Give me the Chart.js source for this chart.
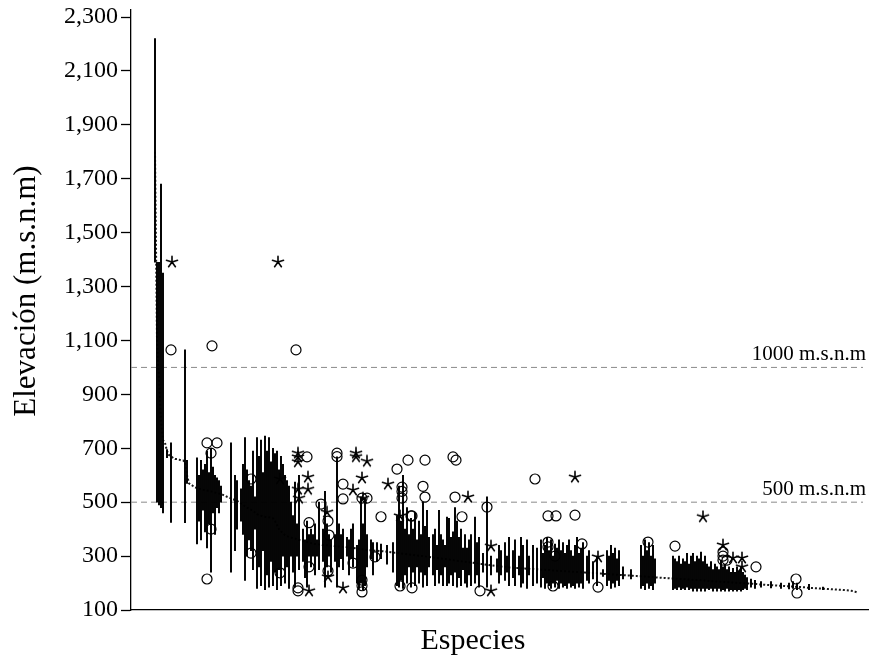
<!DOCTYPE html>
<html>
<head>
<meta charset="utf-8">
<title>Elevación por especie</title>
<script src="https://cdn.jsdelivr.net/npm/chart.js"></script>
<style>
  body { margin: 0; background: #fff; }
  canvas { display: block; }
</style>
</head>
<body>
<canvas id="elevChart" width="869" height="658"></canvas>
<script>
// species are ranked by median elevation (index = rank)
const medians = [
  1800, 1100, 950, 800, 730, 720, 690, 675, 670, 665,
  660, 660, 658, 655, 655, 650, 600, 570, 565, 560,
  555, 552, 550, 548, 546, 545, 543, 542, 540, 538,
  536, 534, 532, 530, 527, 524, 520, 517, 514, 511,
  508, 505, 500, 495, 490, 485, 480, 476, 472, 468,
  462, 456, 452, 450, 448, 446, 445, 444, 443, 440,
  430, 415, 400, 392, 385, 378, 374, 371, 369, 367,
  365, 362, 360, 358, 356, 354, 352, 350, 348, 347,
  345, 344, 343, 342, 341, 340, 340, 339, 338, 338,
  337, 336, 336, 335, 334, 334, 333, 332, 331, 330,
  329, 328, 327, 326, 325, 324, 323, 322, 322, 321,
  320, 320, 319, 318, 318, 317, 316, 315, 314, 313,
  312, 312, 311, 310, 309, 308, 307, 306, 305, 304,
  303, 302, 301, 300, 300, 299, 298, 297, 296, 295,
  294, 293, 292, 291, 290, 289, 288, 287, 286, 285,
  284, 283, 282, 281, 280, 279, 278, 277, 276, 275,
  274, 273, 272, 271, 270, 269, 268, 267, 266, 265,
  264, 263, 262, 261, 260, 260, 259, 258, 258, 257,
  256, 256, 255, 255, 254, 254, 253, 253, 252, 252,
  251, 251, 250, 250, 249, 249, 248, 248, 247, 247,
  246, 246, 245, 245, 244, 244, 243, 243, 242, 242,
  241, 241, 240, 240, 239, 239, 238, 238, 237, 237,
  236, 236, 235, 235, 234, 234, 233, 233, 232, 232,
  231, 231, 230, 230, 229, 229, 228, 228, 227, 227,
  226, 226, 225, 225, 224, 224, 223, 223, 222, 222,
  221, 221, 220, 220, 219, 219, 218, 218, 217, 217,
  216, 216, 215, 215, 214, 214, 213, 213, 212, 212,
  211, 211, 210, 210, 209, 209, 208, 208, 207, 207,
  206, 206, 205, 205, 204, 204, 203, 203, 202, 202,
  201, 201, 200, 200, 199, 199, 198, 198, 197, 197,
  196, 196, 195, 195, 194, 194, 193, 193, 192, 192,
  191, 191, 190, 190, 189, 189, 188, 188, 187, 187,
  186, 186, 185, 185, 184, 184, 183, 183, 182, 182,
  181, 181, 180, 180, 179, 179, 178, 178, 177, 177,
  176, 176, 175, 175, 174, 174, 173, 172, 171, 170, 168, 165
];

const lows = [
  1390, 500, 490, 480, 460, null, 665, null, 425, null,
  null, null, null, null, null, 424, 570, null, null, null,
  null, 345, 430, 360, 470, 390, 330, 420, 240, 460,
  380, 480, 460, 500, null, null, null, null, 240, null,
  320, 400, null, 430, 380, 210, 300, 360, 320, 250,
  400, 180, 260, 190, 320, 175, 230, 185, 280, 190,
  240, 175, 250, 190, 300, 200, 260, 180, 300, 240,
  185, 300, 250, null, 280, 220, 185, 300, 260, 300,
  230, 300, 250, null, 280, 185, 260, 300, 240, null,
  280, 185, 260, 290, 250, null, 300, 230, 290, 260,
  null, 200, 180, 200, 175, 190, 260, null, 290, 230,
  null, 280, null, 290, null, null, 270, null, null, 240,
  null, 190, 185, 210, 180, 230, 200, 260, 185, 240,
  190, 260, 200, 240, 185, 230, 190, 260, null, 230,
  190, 250, 200, 230, 190, 260, 190, 200, 230, 190,
  240, 185, 220, 190, 250, 200, 185, 230, 190, null,
  200, 230, 185, null, 240, null, 185, null, 230, null,
  null, 240, 200, 230, null, 210, 240, 190, null, 220,
  190, null, 230, 185, 200, null, 180, 230, null, 190,
  null, 200, null, 185, 220, 180, 200, 190, 180, 200,
  185, 210, 180, 200, 185, 190, 180, 200, 185, 190,
  180, 200, 185, 200, 180, null, 210, 200, null, 215,
  null, 190, null, null, 225, null, 190, 210, 180, 200,
  185, 210, 190, null, 215, null, null, null, 215, null,
  null, null, null, 180, 190, 175, 200, 180, 190, 175,
  200, null, null, null, null, null, null, null, null, 175,
  180, 175, 185, 175, 180, 175, 185, 175, 180, 170,
  180, 170, 180, 170, 180, 170, 180, 175, 180, 170,
  180, 170, 180, 170, 175, 170, 180, 170, 175, 170,
  175, 170, 175, 170, 175, 180, 175, null, 185, null,
  180, null, null, 185, null, null, null, null, 182, null,
  null, null, null, 180, null, null, null, 178, null, 180,
  null, 175, null, null, null, null, null, 175, null, null,
  null, null, null, null, 175, null, null, null, null, null,
  null, null, null, null, null, null, null, null, null, null, null, null
];

const highs = [
  2220, 1390, 1390, 1680, 1350, null, 695, null, 720, null,
  null, null, null, null, null, 1065, 655, null, null, null,
  null, 665, 600, 655, 620, 640, 690, 610, 700, 630,
  600, 590, 580, 560, null, null, null, null, 720, null,
  600, 580, null, 550, 640, 740, 620, 580, 560, 690,
  520, 740, 670, 730, 610, 745, 690, 740, 650, 700,
  680, 690, 620, 670, 640, 600, 580, 560, 500, 450,
  575, 420, 600, null, 400, 360, 430, 380, 400, 380,
  420, 360, 500, null, 400, 540, 420, 380, 360, null,
  380, 668, 420, 380, 400, null, 370, 360, 400, 420,
  null, 340, 360, 520, 420, 515, 380, null, 360, 350,
  null, 350, null, 345, null, null, 340, null, null, 350,
  null, 450, 560, 430, 600, 400, 480, 380, 440, 400,
  460, 360, 430, 380, 500, 410, 470, 370, null, 380,
  400, 340, 470, 380, 360, 340, 445, 440, 370, 390,
  480, 430, 370, 400, 330, 380, 330, 360, 380, null,
  445, 350, 370, null, 310, null, 520, null, 300, null,
  null, 290, 340, 320, null, 350, 300, 370, null, 320,
  360, null, 300, 370, 340, null, 360, 300, null, 340,
  null, 330, null, 360, 310, 340, 370, 320, 360, 300,
  345, 330, 360, 320, 350, 310, 340, 360, 320, 300,
  340, 370, 310, 330, 350, null, 300, 320, null, 280,
  null, 300, null, null, 250, null, 320, 300, 340, 310,
  330, 290, 320, null, 260, null, null, null, 250, null,
  null, null, null, 340, 300, 360, 320, 350, 300, 340,
  290, null, null, null, null, null, null, null, null, 300,
  290, 280, 300, 270, 290, 280, 310, 270, 300, 310,
  280, 300, 290, 315, 280, 300, 270, 260, 280, 250,
  270, 260, 250, 285, 260, 270, 250, 260, 240, 255,
  240, 260, 245, 260, 240, 230, 220, null, 215, null,
  210, null, null, 205, null, null, null, null, 205, null,
  null, null, null, 200, null, null, null, 200, null, 205,
  null, 200, null, null, null, null, null, 195, null, null,
  null, null, null, null, 185, null, null, null, null, null,
  null, null, null, null, null, null, null, null, null, null, null, null
];

// outliers (circles) and extremes (stars): species rank and elevation
const circleX = [8, 28.5, 70.5, 26, 31, 28, 28, 26, 48, 48, 62.5, 76, 77, 77, 71.5, 71.5, 83, 86.5, 87, 86.5,
  91, 91, 94, 94, 99, 103.5, 106, 103.5, 103.5, 103.5, 110, 113, 121, 126.5, 135, 123.5, 123.5, 123.5, 134, 135,
  128, 128.5, 122.5, 128.5, 149, 150.5, 150, 153.5, 166, 162.5, 190, 196.5, 200.5, 210, 196.5, 196.5, 200, 199,
  213.5, 221.5, 246.5, 260, 284, 284, 284, 286, 300.5, 320.5, 321];
const circleY = [1065, 1080, 1065, 720, 720, 682, 400, 215, 586, 311, 238, 668, 424, 260, 182, 171, 493, 430, 378, 245,
  682, 669, 567, 512, 274, 515, 515, 211, 190, 167, 297, 446, 623, 656, 656, 556, 540, 515, 559, 519,
  449, 449, 189, 182, 668, 656, 519, 446, 482, 171, 586, 449, 449, 452, 352, 334, 300, 189,
  345, 185, 352, 337, 315, 300, 285, 285, 260, 215, 163];

const starX = [8.5, 61.5, 62.5, 71.5, 71.5, 71.5, 76.5, 71.5, 72, 76.5, 86, 86.5, 77, 94, 100.5, 100.5,
  106, 103.5, 99, 104, 116.5, 122.5, 156.5, 168, 168, 210, 221.5, 274, 284, 289, 293.5, 293.5];
const starY = [1391, 1391, 586, 682, 668, 650, 593, 548, 515, 548, 463, 223, 171, 182, 682, 669,
  652, 590, 545, 515, 567, 449, 519, 337, 171, 593, 297, 446, 341, 293, 293, 260];

const yTicks = [100, 300, 500, 700, 900, 1100, 1300, 1500, 1700, 1900, 2100, 2300];
const refLevels = [1000, 500];
const refLabels = ['1000 m.s.n.m', '500 m.s.n.m'];

const serif = "'Liberation Serif', 'Times New Roman', serif";

const rangeData = [];
lows.forEach((lo, i) => {
  if (lo !== null) rangeData.push({ x: i, y: [lo, highs[i]] });
});
const medianData = medians.map((m, i) => ({ x: i, y: m }));
const circleData = circleX.map((x, i) => ({ x: x, y: circleY[i] }));
const starData = starX.map((x, i) => ({ x: x, y: starY[i] }));

// five-armed asterisk for the extreme values
const starImg = document.createElement('canvas');
starImg.width = 14;
starImg.height = 14;
const sctx = starImg.getContext('2d');
sctx.strokeStyle = '#000';
sctx.lineWidth = 1.6;
sctx.lineCap = 'round';
sctx.beginPath();
for (let k = 0; k < 5; k++) {
  const a = -Math.PI / 2 + k * 2 * Math.PI / 5;
  sctx.moveTo(7, 7);
  sctx.lineTo(7 + 5.8 * Math.cos(a), 7 + 5.8 * Math.sin(a));
}
sctx.stroke();

const xMin = -12;
const xMax = 357;

const refDatasets = refLevels.map((lvl) => ({
  type: 'line',
  data: [{ x: xMin, y: lvl }, { x: 354, y: lvl }],
  borderColor: '#8a8a8a',
  borderWidth: 1,
  borderDash: [6, 4],
  pointRadius: 0,
  order: 5
}));

const textPlugin = {
  id: 'textPlugin',
  afterDraw(chart) {
    const ctx = chart.ctx;
    const y = chart.scales.y;
    ctx.save();
    ctx.fillStyle = '#000';
    ctx.font = '21px ' + serif;
    ctx.textAlign = 'right';
    ctx.textBaseline = 'alphabetic';
    refLevels.forEach((lvl, i) => {
      ctx.fillText(refLabels[i], 866, y.getPixelForValue(lvl) - 7);
    });

    ctx.font = '30px ' + serif;
    ctx.textAlign = 'center';
    ctx.fillText('Especies', 473, 649);

    ctx.translate(35, 291);
    ctx.rotate(-Math.PI / 2);
    ctx.font = '31px ' + serif;
    ctx.fillText('Elevación (m.s.n.m)', 0, 0);
    ctx.restore();
  }
};

new Chart(document.getElementById('elevChart'), {
  type: 'bar',
  data: {
    datasets: [
      {
        type: 'bar',
        data: rangeData,
        backgroundColor: '#000',
        barThickness: 1.3,
        order: 3
      },
      {
        type: 'line',
        data: medianData,
        borderColor: '#1a1a1a',
        borderWidth: 2,
        borderDash: [2, 2],
        pointRadius: 0,
        order: 4
      },
      {
        type: 'line',
        data: circleData,
        showLine: false,
        pointStyle: 'circle',
        pointRadius: 5,
        pointBorderWidth: 1.2,
        pointBorderColor: '#000',
        pointBackgroundColor: 'rgba(0,0,0,0)',
        order: 1
      },
      {
        type: 'line',
        data: starData,
        showLine: false,
        pointStyle: starImg,
        order: 1
      },
      ...refDatasets
    ]
  },
  options: {
    responsive: false,
    animation: false,
    layout: { autoPadding: false, padding: { top: 10, left: 0, right: 0, bottom: 0 } },
    plugins: {
      legend: { display: false },
      tooltip: { enabled: false }
    },
    scales: {
      x: {
        type: 'linear',
        offset: false,
        min: xMin,
        max: xMax,
        ticks: { display: false },
        grid: { display: true, offset: false, drawOnChartArea: false, drawTicks: false },
        border: { display: true, color: '#000', width: 1.3 },
        afterFit(s) {
          s.height = 48;
          s.paddingLeft = 0;
          s.paddingRight = 0;
        }
      },
      y: {
        type: 'linear',
        min: 100,
        max: 2326,
        afterBuildTicks(s) {
          s.ticks = yTicks.map((v) => ({ value: v }));
        },
        ticks: {
          color: '#000',
          padding: 3,
          font: { family: serif, size: 24 },
          callback: (v) => Number(v).toLocaleString('en-US')
        },
        grid: {
          display: true,
          drawOnChartArea: false,
          drawTicks: true,
          tickLength: 10,
          tickColor: '#000',
          tickWidth: 1.3,
          color: '#000'
        },
        border: { display: true, color: '#000', width: 1.3 },
        afterFit(s) {
          s.width = 131;
          s.paddingTop = 0;
          s.paddingBottom = 0;
        }
      }
    }
  },
  plugins: [textPlugin]
});
</script>
</body>
</html>
